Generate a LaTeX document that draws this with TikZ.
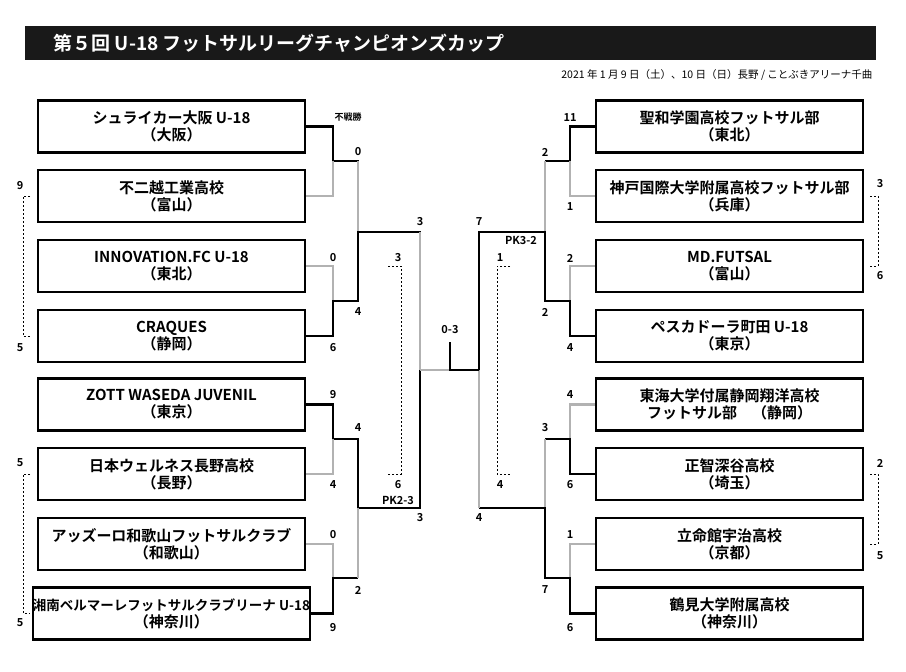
\documentclass[tikz,border=0pt]{standalone}
\usepackage{fontspec}
\setmainfont{Noto Sans CJK JP}[BoldFont={Noto Sans CJK JP Bold}]
\usetikzlibrary{positioning}
\tikzset{
  team/.style={draw,line width=2.2pt,minimum width=267pt,minimum height=52pt,inner sep=0pt,align=center,font=\fontsize{15}{17}\selectfont\bfseries},
  win/.style={black,line width=2.2pt},
  lose/.style={black!30,line width=2.2pt},
  score/.style={font=\fontsize{11}{12}\selectfont\bfseries,inner sep=1pt},
  note/.style={dashed,line width=0.6pt,dash pattern=on 2pt off 2pt},
}
\begin{document}
\begin{tikzpicture}[x=1pt,y=-1pt,line join=miter]
\useasboundingbox (0,0) rectangle (906,672);
%%
\fill[black!90] (25,26) rectangle (876,60);
\node (title) at (50,43) [anchor=west,text=white,font=\fontsize{19}{21}\selectfont\bfseries] {第５回 U-18 フットサルリーグチャンピオンズカップ};
\node (date) at (876,75) [anchor=east,font=\fontsize{10.5}{12}\selectfont] {2021 年 1 月 9 日（土）、10 日（日）長野 / ことぶきアリーナ千曲};
%% teams
\node (l1) at (171.5,126.5) [team] {シュライカー大阪 U-18\\（大阪）};
\node (l2) at (171.5,196) [team] {不二越工業高校\\（富山）};
\node (l3) at (171.5,266) [team] {INNOVATION.FC U-18\\（東北）};
\node (l4) at (171.5,336) [team] {CRAQUES\\（静岡）};
\node (l5) at (171.5,404.5) [team] {ZOTT WASEDA JUVENIL\\（東京）};
\node (l6) at (171.5,474) [team] {日本ウェルネス長野高校\\（長野）};
\node (l7) at (171.5,544) [team] {アッズーロ和歌山フットサルクラブ\\（和歌山）};
\node (l8) at (171.5,613.5) [team] {\fontsize{13.5}{17}\selectfont 湘南ベルマーレフットサルクラブリーナ U-18\\（神奈川）};
\node (r1) at (729.5,126.5) [team] {聖和学園高校フットサル部\\（東北）};
\node (r2) at (729.5,196) [team] {神戸国際大学附属高校フットサル部\\（兵庫）};
\node (r3) at (729.5,266) [team] {MD.FUTSAL\\（富山）};
\node (r4) at (729.5,336) [team] {ペスカドーラ町田 U-18\\（東京）};
\node (r5) at (729.5,404.5) [team] {東海大学付属静岡翔洋高校\\フットサル部　（静岡）};
\node (r6) at (729.5,474) [team] {正智深谷高校\\（埼玉）};
\node (r7) at (729.5,544) [team] {立命館宇治高校\\（京都）};
\node (r8) at (729.5,613.5) [team] {鶴見大学附属高校\\（神奈川）};
%% junctions
\coordinate (la) at (333,161);
\coordinate (lb) at (333,301);
\coordinate (lc) at (333,439);
\coordinate (ld) at (333,578);
\coordinate (le) at (358,232);
\coordinate (lf) at (358,508);
\coordinate (lg) at (420,370);
\coordinate (ra) at (570,161);
\coordinate (rb) at (570,301);
\coordinate (rc) at (570,439);
\coordinate (rd) at (570,578);
\coordinate (re) at (545,232);
\coordinate (rf) at (545,508);
\coordinate (rg) at (479,370);
\coordinate (fin) at (450,342);
%% left side
\draw[win] (l1.east) -| (la) -- (la -| le) |- (le);
\draw[lose] (l2.east) -| (la);
\draw[lose] (la -| le) -- (le);
\draw[lose] (l3.east) -| (lb);
\draw[win] (l4.east) -| (lb) -- (lb -| le) -- (le) -- (le -| lg) -- (lg);
\draw[lose] (le -| lg) -- (lg);
\draw[win] (l5.east) -| (lc) -- (lc -| lf) -- (lf) -- (lf -| lg) -- (lg);
\draw[lose] (l6.east) -| (lc);
\draw[lose] (l7.east) -| (ld);
\draw[win] (l8.east) -| (ld) -- (ld -| lf);
\draw[lose] (ld -| lf) -- (lf);
\draw[lose] (lg) -- (lg -| fin);
%% right side
\draw[win] (r1.west) -| (ra) -- (ra -| re);
\draw[lose] (r2.west) -| (ra);
\draw[lose] (ra -| re) -- (re);
\draw[lose] (r3.west) -| (rb);
\draw[win] (r4.west) -| (rb) -- (rb -| re) -- (re) -- (re -| rg) -- (rg);
\draw[lose] (r5.west) -| (rc);
\draw[win] (r6.west) -| (rc) -- (rc -| rf);
\draw[lose] (rc -| rf) -- (rf);
\draw[lose] (r7.west) -| (rd);
\draw[win] (r8.west) -| (rd) -- (rd -| rf) -- (rf) -- (rf -| rg);
\draw[lose] (rf -| rg) -- (rg);
\draw[win] (rg) -- (rg -| fin) -- (fin);
%% scores
\node at (348,117) [score,font=\fontsize{9}{10}\selectfont\bfseries] {不戦勝};
\node at (358,152) [score] {0};
\node at (333,258) [score] {0};
\node at (333,348) [score] {6};
\node at (358,312) [score] {4};
\node at (420,222) [score] {3};
\node at (333,395) [score] {9};
\node at (333,485) [score] {4};
\node at (358,428) [score] {4};
\node at (333,535) [score] {0};
\node at (333,628) [score] {9};
\node at (358,590) [score] {2};
\node at (398,500) [score] {PK2-3};
\node at (420,518) [score] {3};
\node at (450,330) [score] {0-3};
\node at (479,222) [score] {7};
\node at (521,240) [score] {PK3-2};
\node at (479,518) [score] {4};
\node at (570,118) [score] {11};
\node at (570,207) [score] {1};
\node at (545,152) [score] {2};
\node at (570,258) [score] {2};
\node at (570,348) [score] {4};
\node at (545,312) [score] {2};
\node at (570,395) [score] {4};
\node at (570,485) [score] {6};
\node at (545,428) [score] {3};
\node at (570,535) [score] {1};
\node at (570,628) [score] {6};
\node at (545,590) [score] {7};
%% other games
\draw[note] (30,196) -- (23,196) -- (23,336) -- (30,336);
\node at (20,186) [score] {9};
\node at (20,348) [score] {5};
\draw[note] (30,474) -- (23,474) -- (23,613) -- (30,613);
\node at (20,463) [score] {5};
\node at (20,623) [score] {5};
\draw[note] (870,196) -- (878,196) -- (878,266) -- (870,266);
\node at (880,184) [score] {3};
\node at (880,276) [score] {6};
\draw[note] (870,474) -- (878,474) -- (878,544) -- (870,544);
\node at (880,463) [score] {2};
\node at (880,556) [score] {5};
\draw[note] (388,266) -- (401,266) -- (401,474) -- (388,474);
\node at (398,258) [score] {3};
\node at (398,485) [score] {6};
\draw[note] (510,266) -- (497,266) -- (497,474) -- (510,474);
\node at (500,258) [score] {1};
\node at (500,485) [score] {4};
%
\end{tikzpicture}
\end{document}
